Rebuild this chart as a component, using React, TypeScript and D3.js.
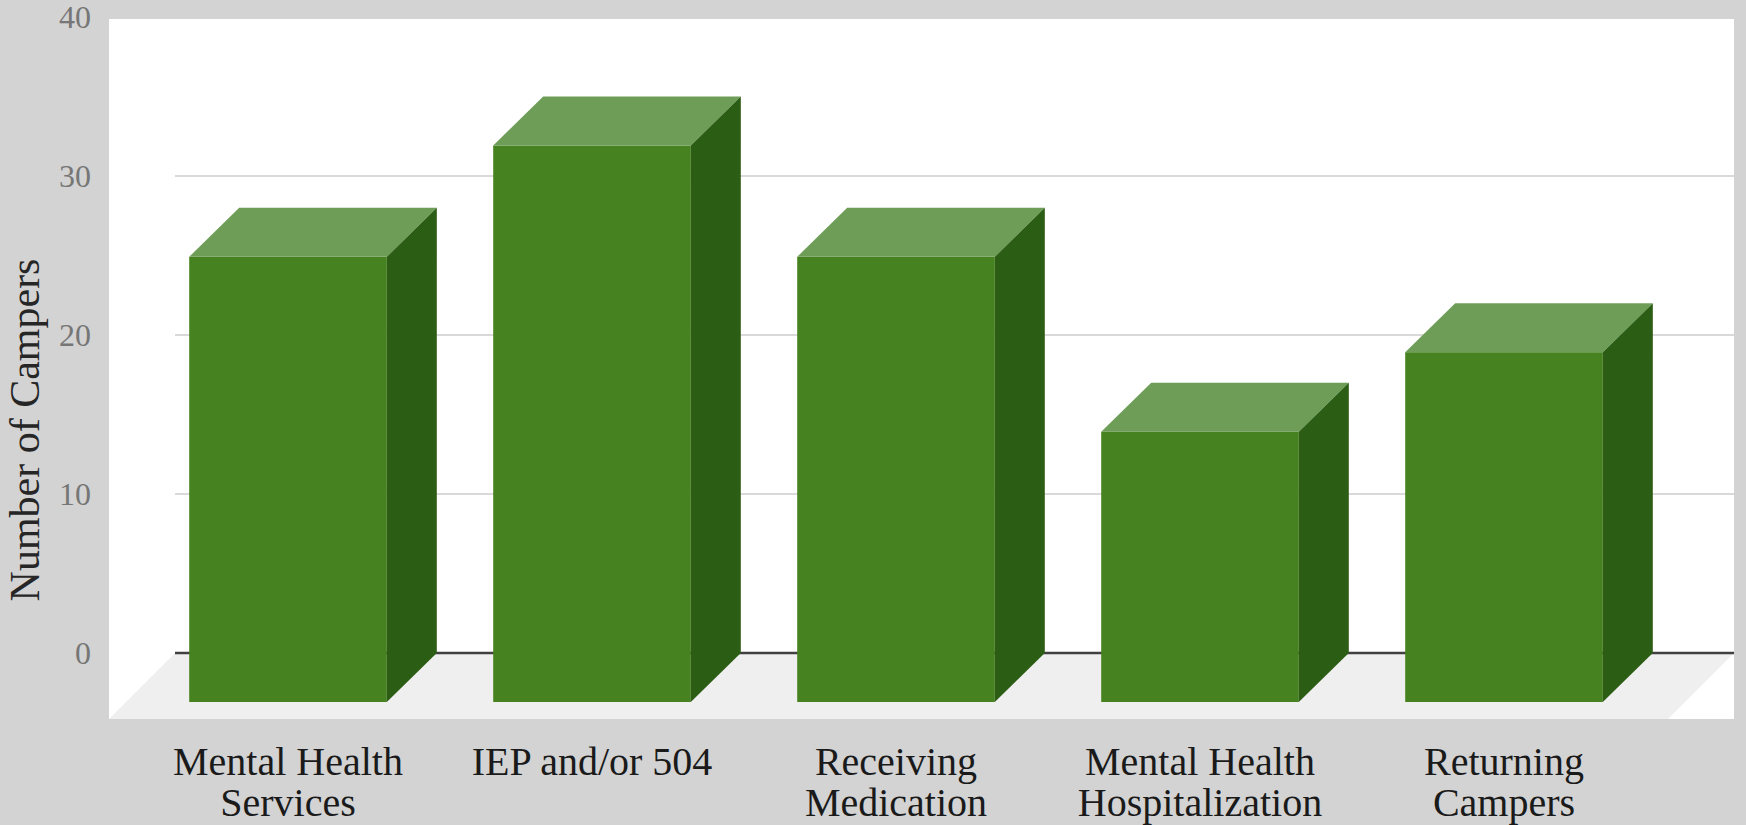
import React from "react";
import * as d3 from "d3";

const categories: string[][] = [
  ["Mental Health", "Services"],
  ["IEP and/or 504"],
  ["Receiving", "Medication"],
  ["Mental Health", "Hospitalization"],
  ["Returning", "Campers"],
];
const values: number[] = [28, 35, 28, 17, 22];
const yTicks: number[] = [0, 10, 20, 30, 40];
const yTitle = "Number of Campers";

const W = 1746;
const H = 825;

export default function App() {
  const wallLeft = 175;
  const plotRight = 1734;
  const plotLeft = 109;
  const plotTop = 19;
  const floorFront = 719;
  const y = d3.scaleLinear().domain([0, 40]).range([653, 17]);
  const depthX = 66;
  const depthY = floorFront - y(0);
  const barDX = 50;
  const barDY = 49;

  const keys = categories.map((c) => c.join(" "));
  const x = d3
    .scaleBand<string>()
    .domain(keys)
    .range([136, 1656])
    .paddingInner(0.35)
    .paddingOuter(0.175);
  const bw = x.bandwidth();
  const font = "'Liberation Serif', 'Times New Roman', serif";

  const y0 = y(0);
  const floorPts = [
    [wallLeft, y0],
    [plotRight, y0],
    [plotRight - depthX, y0 + depthY],
    [plotLeft, y0 + depthY],
  ];

  return (
    <svg
      width={W}
      height={H}
      style={{ position: "absolute", left: 0, top: 0, display: "block" }}
    >
      <rect x={0} y={0} width={W} height={H} fill="#d3d3d3" />
      <rect
        x={plotLeft}
        y={plotTop}
        width={plotRight - plotLeft}
        height={floorFront - plotTop}
        fill="#ffffff"
      />
      <polygon points={floorPts.map((p) => p.join(",")).join(" ")} fill="#efefef" />
      {yTicks
        .filter((t) => t > 0 && t < 40)
        .map((t) => (
          <line
            key={t}
            x1={wallLeft}
            x2={plotRight}
            y1={y(t)}
            y2={y(t)}
            stroke="#d9d9d9"
            strokeWidth={2}
          />
        ))}
      <line x1={wallLeft} x2={plotRight} y1={y0} y2={y0} stroke="#404040" strokeWidth={2.5} />
      {yTicks.map((t) => (
        <text
          key={t}
          x={91}
          y={y(t)}
          textAnchor="end"
          dominantBaseline="central"
          fontFamily={font}
          fontSize={32}
          fill="#767676"
        >
          {t}
        </text>
      ))}
      <text
        transform={`translate(39, 430) rotate(-90)`}
        textAnchor="middle"
        fontFamily={font}
        fontSize={42}
        fill="#262626"
      >
        {yTitle}
      </text>
      {values.map((v, i) => {
        const fx = x(keys[i]) as number;
        const fTop = y(v) + barDY;
        const fBot = y0 + barDY;
        const top = [
          [fx, fTop],
          [fx + bw, fTop],
          [fx + bw + barDX, fTop - barDY],
          [fx + barDX, fTop - barDY],
        ];
        const side = [
          [fx + bw, fTop],
          [fx + bw + barDX, fTop - barDY],
          [fx + bw + barDX, y0],
          [fx + bw, fBot],
        ];
        return (
          <g key={i}>
            <rect x={fx} y={fTop} width={bw} height={fBot - fTop} fill="#478220" />
            <polygon points={top.map((p) => p.join(",")).join(" ")} fill="#6e9d57" />
            <polygon points={side.map((p) => p.join(",")).join(" ")} fill="#2b5d14" />
          </g>
        );
      })}
      {categories.map((lines, i) => {
        const cx = (x(keys[i]) as number) + bw / 2;
        return (
          <text
            key={i}
            x={cx}
            y={775}
            textAnchor="middle"
            fontFamily={font}
            fontSize={40}
            fill="#1a1a1a"
          >
            {lines.map((l, j) => (
              <tspan key={j} x={cx} dy={j === 0 ? 0 : 41}>
                {l}
              </tspan>
            ))}
          </text>
        );
      })}
    </svg>
  );
}
